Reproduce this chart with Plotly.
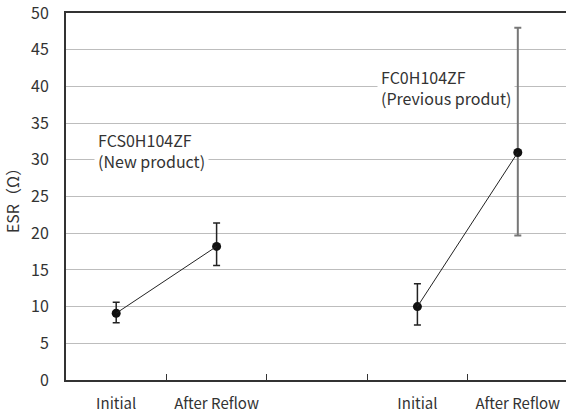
import plotly.graph_objects as go

# ---- data ----
new_x = [0, 1]
new_esr = [9.1, 18.2]
new_err_plus = [1.5, 3.2]
new_err_minus = [1.3, 2.6]

prev_x = [3, 4]
prev_esr = [10.0, 31.0]
prev_err_plus = [3.1, 17.0]
prev_err_minus = [2.5, 11.3]

tick_vals = [0, 1, 3, 4]
tick_text = ["Initial", "After Reflow", "Initial", "After Reflow"]
boundary_ticks = [0.5, 1.5, 2.5, 3.5]
new_label = "FCS0H104ZF<br>(New product)"
prev_label = "FC0H104ZF<br>(Previous produt)"

FONT = "Noto Sans CJK JP"
XRANGE = [-0.5, 4.48]
fig = go.Figure()

def add_product(xs, ys, ep, em, err_colors, err_thick):
    fig.add_trace(go.Scatter(x=xs, y=ys, mode="lines", xaxis="x2",
                             line=dict(color="#222", width=1), showlegend=False,
                             hoverinfo="skip"))
    for i in range(len(xs)):
        fig.add_trace(go.Scatter(
            x=[xs[i]], y=[ys[i]], mode="markers",
            marker=dict(color="#111", size=9),
            error_y=dict(type="data", symmetric=False, array=[ep[i]],
                         arrayminus=[em[i]], color=err_colors[i],
                         thickness=err_thick[i], width=3.5),
            showlegend=False))

add_product(new_x, new_esr, new_err_plus, new_err_minus, ["#222", "#222"], [1.5, 1.5])
add_product(prev_x, prev_esr, prev_err_plus, prev_err_minus, ["#222", "#777"], [1.5, 2])

fig.add_annotation(x=-0.22, y=31.3, xref="x", yref="y", text=new_label,
                   showarrow=False, xanchor="left", yanchor="middle", align="left",
                   font=dict(family=FONT, size=16, color="#333"),
                   bgcolor="white", borderpad=3)
fig.add_annotation(x=2.6, y=39.9, xref="x", yref="y", text=prev_label,
                   showarrow=False, xanchor="left", yanchor="middle", align="left",
                   font=dict(family=FONT, size=16, color="#333"),
                   bgcolor="white", borderpad=3)

fig.update_layout(
    width=566, height=412,
    margin=dict(l=66, r=0, t=13, b=32, autoexpand=False),
    paper_bgcolor="white", plot_bgcolor="white",
    font=dict(family=FONT, color="#333", size=14),
    xaxis=dict(range=XRANGE, tickvals=tick_vals, ticktext=tick_text,
               ticks="", showgrid=False, zeroline=False, automargin=False,
               showline=True, linecolor="#333", linewidth=2, mirror=True,
               ticklabelstandoff=9, ticklabeloverflow="allow",
               tickfont=dict(family=FONT, size=15, color="#333")),
    xaxis2=dict(range=XRANGE, overlaying="x", side="bottom",
                tickvals=boundary_ticks, ticks="inside", ticklen=6,
                tickcolor="#333", tickwidth=1, showticklabels=False,
                showgrid=False, zeroline=False, showline=False, automargin=False),
    yaxis=dict(range=[0, 50], tickmode="linear", tick0=0, dtick=5,
               showgrid=True, gridcolor="#bdbdbd",
               gridwidth=1.3, zeroline=False, showline=True, linecolor="#333",
               linewidth=2, ticks="", ticklabelstandoff=12, automargin=False,
               ticklabeloverflow="allow",
               tickfont=dict(family=FONT, size=16, color="#333"),
               title=dict(text="ESR（Ω）", font=dict(family=FONT, size=16, color="#333"),
                          standoff=9)),
)

fig.write_html("out.html")
